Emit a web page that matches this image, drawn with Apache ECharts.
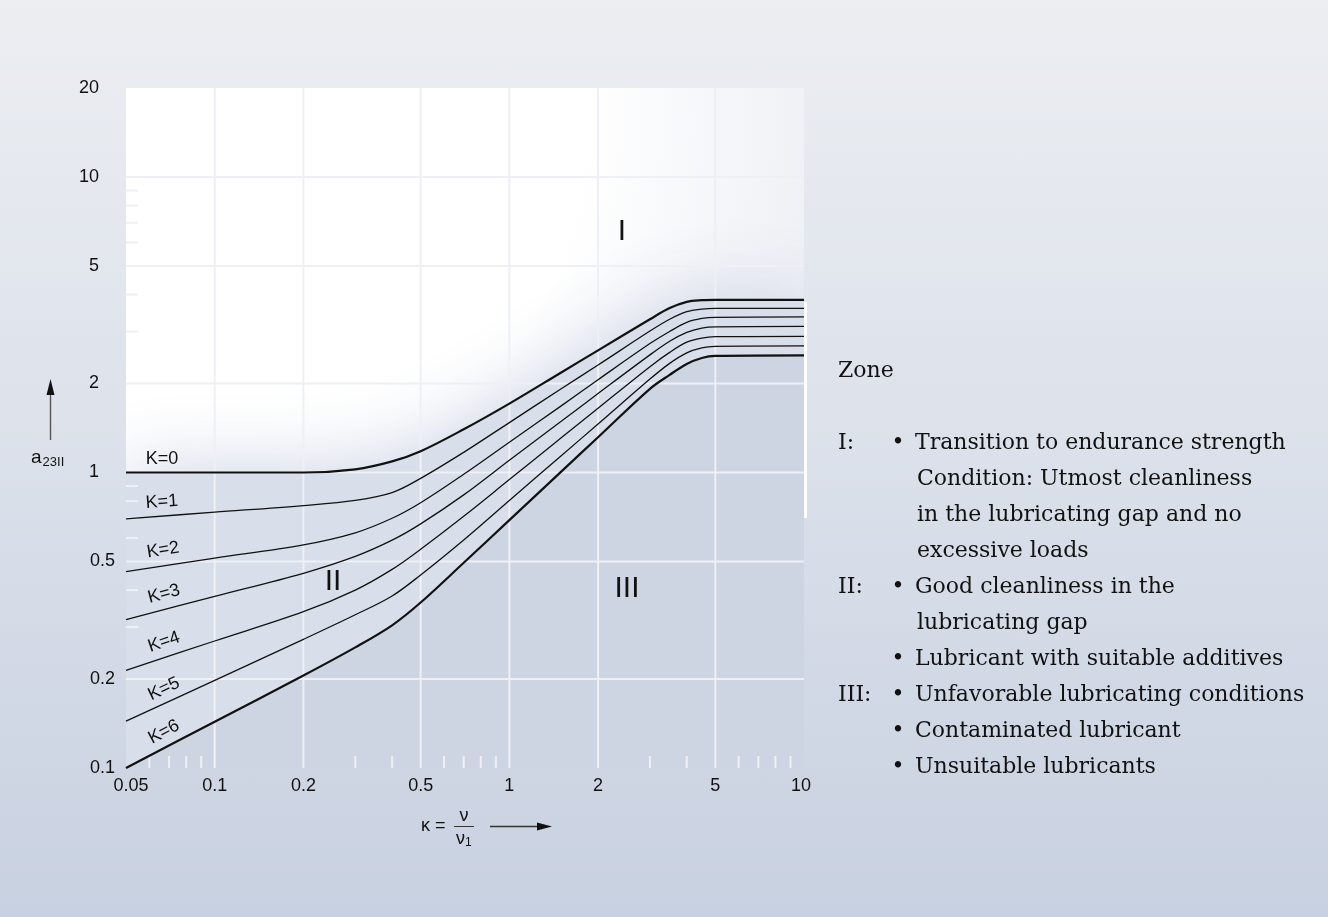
<!DOCTYPE html>
<html>
<head>
<meta charset="utf-8">
<script src="https://cdn.jsdelivr.net/npm/echarts@6/dist/echarts.min.js"></script>
<style>
  html, body { margin: 0; padding: 0; }
  #chart {
    width: 1328px; height: 917px;
    background: linear-gradient(to bottom, #eceef2 0%, #dde2eb 45%, #c8d1e1 100%);
  }
</style>
</head>
<body>
<div id="chart"></div>
<script>
// kappa = v / v1, points where the curves were read
const kappa = [0.05, 0.1, 0.2, 0.3, 0.4, 0.5, 0.7, 1, 1.5, 2, 3, 3.5, 4, 4.5, 5, 10];
// a23II for K = 0 .. 6
const k0 = [1, 1, 1, 1.025, 1.09, 1.18, 1.4, 1.71, 2.18, 2.59, 3.3, 3.6, 3.78, 3.83, 3.84, 3.84];
const k1 = [0.697, 0.734, 0.773, 0.805, 0.855, 0.955, 1.17, 1.475, 1.92, 2.31, 3.01, 3.3, 3.5, 3.57, 3.59, 3.59];
const k2 = [0.462, 0.513, 0.569, 0.625, 0.70, 0.79, 0.986, 1.266, 1.68, 2.06, 2.73, 3.0, 3.22, 3.32, 3.35, 3.36];
const k3 = [0.318, 0.381, 0.456, 0.52, 0.59, 0.67, 0.84, 1.10, 1.49, 1.85, 2.50, 2.78, 2.98, 3.08, 3.11, 3.12];
const k4 = [0.214, 0.269, 0.338, 0.40, 0.47, 0.55, 0.711, 0.946, 1.31, 1.65, 2.28, 2.55, 2.76, 2.85, 2.88, 2.89];
const k5 = [0.144, 0.198, 0.2725, 0.33, 0.382, 0.45, 0.591, 0.804, 1.14, 1.458, 2.07, 2.34, 2.54, 2.64, 2.67, 2.68];
const k6 = [0.1, 0.1434, 0.2056, 0.256, 0.304, 0.363, 0.495, 0.69, 1.007, 1.316, 1.919, 2.14, 2.33, 2.44, 2.48, 2.49];

// axis ticks
const xMajor = [0.05, 0.1, 0.2, 0.5, 1, 2, 5, 10];
const yMajor = [0.1, 0.2, 0.5, 1, 2, 5, 10, 20];
const xMinor = [0.06, 0.07, 0.08, 0.09, 0.3, 0.4, 0.6, 0.7, 0.8, 0.9, 3, 4, 6, 7, 8, 9];
const yMinor = [0.3, 0.4, 0.6, 0.7, 0.8, 0.9, 3, 4, 6, 7, 8, 9];
const kNames = ['K=0', 'K=1', 'K=2', 'K=3', 'K=4', 'K=5', 'K=6'];

// colours
const gridColor = '#eef0f5';
const zone2 = '#d9dfea';
const zone3 = '#cdd5e3';
const ink = '#111111';
const sans = '"Liberation Sans", Arial, sans-serif';
const serif = '"DejaVu Serif", serif';

const curves = [k0, k1, k2, k3, k4, k5, k6];
const toPts = ys => kappa.map((x, i) => [x, ys[i]]);

const chart = echarts.init(document.getElementById('chart'));

function txt(text, x, y, font, align, extra) {
  return Object.assign({
    type: 'text', x: x, y: y,
    style: {
      text: text, font: font, fill: ink,
      align: align || 'left', textAlign: align || 'left',
      verticalAlign: 'middle', textVerticalAlign: 'middle'
    }
  }, extra || {});
}

// grid lines (major), drawn through the axes
function vLine(params, api) {
  const cs = params.coordSys;
  const x = api.coord([api.value(0), api.value(1)])[0];
  return { type: 'line', shape: { x1: x, y1: cs.y, x2: x, y2: cs.y + cs.height },
    style: { stroke: gridColor, lineWidth: 2 } };
}
function hLine(params, api) {
  const cs = params.coordSys;
  const y = api.coord([api.value(0), api.value(1)])[1];
  return { type: 'line', shape: { x1: cs.x, y1: y, x2: cs.x + cs.width, y2: y },
    style: { stroke: gridColor, lineWidth: 2 } };
}
function xTick(params, api) {
  const cs = params.coordSys;
  const x = api.coord([api.value(0), api.value(1)])[0];
  const b = cs.y + cs.height;
  return { type: 'line', shape: { x1: x, y1: b, x2: x, y2: b - 12 },
    style: { stroke: gridColor, lineWidth: 2 } };
}
function yTick(params, api) {
  const cs = params.coordSys;
  const y = api.coord([api.value(0), api.value(1)])[1];
  return { type: 'line', shape: { x1: cs.x, y1: y, x2: cs.x + 12, y2: y },
    style: { stroke: gridColor, lineWidth: 2 } };
}
function xLabel(params, api) {
  const cs = params.coordSys;
  const v = api.value(0);
  let x = api.coord([v, api.value(1)])[0];
  if (v === xMajor[0]) x += 5;
  if (v === xMajor[xMajor.length - 1]) x -= 3;
  return { type: 'text', x: x, y: cs.y + cs.height + 18,
    style: { text: String(v), font: '18px ' + sans, fill: ink,
      align: 'center', textAlign: 'center', verticalAlign: 'middle', textVerticalAlign: 'middle' } };
}
function yLabel(params, api) {
  const cs = params.coordSys;
  const v = api.value(1);
  const y = api.coord([api.value(0), v])[1];
  const off = v < 1 ? 11 : 27;
  return { type: 'text', x: cs.x - off, y: y,
    style: { text: String(v), font: '18px ' + sans, fill: ink,
      align: 'right', textAlign: 'right', verticalAlign: 'middle', textVerticalAlign: 'middle' } };
}

const series = [];
// zone II fill (below K=0) with a soft glow into zone I
series.push({
  type: 'line', data: toPts(k0), smooth: 0.35, symbol: 'none', silent: true, z: 2,
  lineStyle: { width: 0 },
  areaStyle: { origin: 'start', color: zone2, opacity: 1, shadowBlur: 80, shadowColor: 'rgba(198,207,224,0.95)' }
});
// zone III fill (below K=6)
series.push({
  type: 'line', data: toPts(k6), smooth: 0.35, symbol: 'none', silent: true, z: 2,
  lineStyle: { width: 0 },
  areaStyle: { origin: 'start', color: zone3, opacity: 1 }
});
series.push({ type: 'custom', renderItem: vLine, data: xMajor.slice(1, -1).map(v => [v, 1]), z: 3, silent: true });
series.push({ type: 'custom', renderItem: hLine, data: yMajor.slice(1, -1).map(v => [1, v]), z: 3, silent: true });
series.push({ type: 'custom', renderItem: xTick, data: xMinor.map(v => [v, 1]), z: 3, silent: true });
series.push({ type: 'custom', renderItem: yTick, data: yMinor.map(v => [1, v]), z: 3, silent: true });
curves.forEach((ys, i) => {
  series.push({
    type: 'line', name: kNames[i], data: toPts(ys), smooth: 0.35, symbol: 'none', z: 4,
    lineStyle: { color: ink, width: (i === 0 || i === 6) ? 2.2 : 1.3 }
  });
});
series.push({ type: 'custom', renderItem: xLabel, data: xMajor.map(v => [v, 0.1]), z: 5, silent: true, clip: false });
series.push({ type: 'custom', renderItem: yLabel, data: yMajor.map(v => [0.05, v]), z: 5, silent: true, clip: false });

// curve labels (centre x, centre y, angle in degrees)
const kLabelPos = [[162, 459, 0], [162, 502, 4], [163, 550, 9], [164, 594, 15], [164, 642, 19], [164, 689, 25], [164, 732, 28]];
const graphics = kNames.map((n, i) => txt(n, kLabelPos[i][0], kLabelPos[i][1], '18px ' + sans, 'center',
  { rotation: kLabelPos[i][2] * Math.PI / 180, z: 10 }));

// zone numerals
graphics.push(txt('I', 622, 232, '30px ' + sans, 'center', { z: 10 }));
graphics.push(txt('II', 333, 582, '30px ' + sans, 'center', { z: 10 }));
graphics.push(txt('III', 627, 589, '30px ' + sans, 'center', { z: 10 }));

// white strip at right edge of plot
graphics.push({ type: 'rect', shape: { x: 804, y: 302, width: 3, height: 216 }, style: { fill: '#ffffff' }, z: 9 });

// y axis name with arrow
graphics.push({ type: 'line', shape: { x1: 50.5, y1: 393, x2: 50.5, y2: 440 }, style: { stroke: '#555', lineWidth: 1.4 }, z: 10 });
graphics.push({ type: 'polygon', shape: { points: [[50.5, 379], [46.5, 395], [54.5, 395]] }, style: { fill: '#111' }, z: 10 });
graphics.push({
  type: 'text', x: 31, y: 458, z: 10,
  style: {
    text: '{a|a}{s|23II}', align: 'left', textAlign: 'left', verticalAlign: 'middle', textVerticalAlign: 'middle',
    rich: {
      a: { font: '19px ' + sans, fill: ink },
      s: { font: '13px ' + sans, fill: ink, padding: [9, 0, 0, 1] }
    }
  }
});

// x axis name: kappa = v / v1 with arrow
graphics.push(txt('κ =', 421, 826, '18px ' + sans, 'left', { z: 10 }));
graphics.push(txt('ν', 464, 816, '18px ' + sans, 'center', { z: 10 }));
graphics.push({ type: 'line', shape: { x1: 454, y1: 826.5, x2: 474, y2: 826.5 }, style: { stroke: '#333', lineWidth: 1 }, z: 10 });
graphics.push({
  type: 'text', x: 456, y: 839, z: 10,
  style: {
    text: '{a|ν}{s|1}', align: 'left', textAlign: 'left', verticalAlign: 'middle', textVerticalAlign: 'middle',
    rich: { a: { font: '18px ' + sans, fill: ink }, s: { font: '12px ' + sans, fill: ink, padding: [8, 0, 0, 0] } }
  }
});
graphics.push({ type: 'line', shape: { x1: 490, y1: 826.5, x2: 538, y2: 826.5 }, style: { stroke: '#333', lineWidth: 1.3 }, z: 10 });
graphics.push({ type: 'polygon', shape: { points: [[552, 826.5], [537, 822.5], [537, 830.5]] }, style: { fill: '#111' }, z: 10 });

// zone description text
const f = '22px ' + serif;
const rows = [
  ['Zone', 838, 371],
  ['I:', 838, 443], ['•', 898, 443], ['Transition to endurance strength', 915, 443],
  ['Condition: Utmost cleanliness', 917, 479],
  ['in the lubricating gap and no', 917, 515],
  ['excessive loads', 917, 551],
  ['II:', 838, 587], ['•', 898, 587], ['Good cleanliness in the', 915, 587],
  ['lubricating gap', 917, 623],
  ['•', 898, 659], ['Lubricant with suitable additives', 915, 659],
  ['III:', 838, 695], ['•', 898, 695], ['Unfavorable lubricating conditions', 915, 695],
  ['•', 898, 731], ['Contaminated lubricant', 915, 731],
  ['•', 898, 767], ['Unsuitable lubricants', 915, 767]
];
rows.forEach(r => graphics.push(txt(r[0], r[1], r[2], f, r[0] === '•' ? 'center' : 'left', { z: 10 })));

const option = {
  animation: false,
  backgroundColor: 'transparent',
  grid: {
    left: 126, top: 88, width: 678, height: 680, show: true, borderWidth: 0,
    backgroundColor: {
      type: 'radial', x: 0.1, y: 0.05, r: 1.15,
      colorStops: [{ offset: 0, color: '#ffffff' }, { offset: 0.5, color: '#ffffff' }, { offset: 1, color: '#e3e7ef' }]
    }
  },
  xAxis: {
    type: 'log', logBase: 10, min: 0.05, max: 10,
    axisLine: { show: false }, axisTick: { show: false }, axisLabel: { show: false }, splitLine: { show: false }
  },
  yAxis: {
    type: 'log', logBase: 10, min: 0.1, max: 20,
    axisLine: { show: false }, axisTick: { show: false }, axisLabel: { show: false }, splitLine: { show: false }
  },
  series: series,
  graphic: graphics
};

option && chart.setOption(option);
</script>
</body>
</html>
